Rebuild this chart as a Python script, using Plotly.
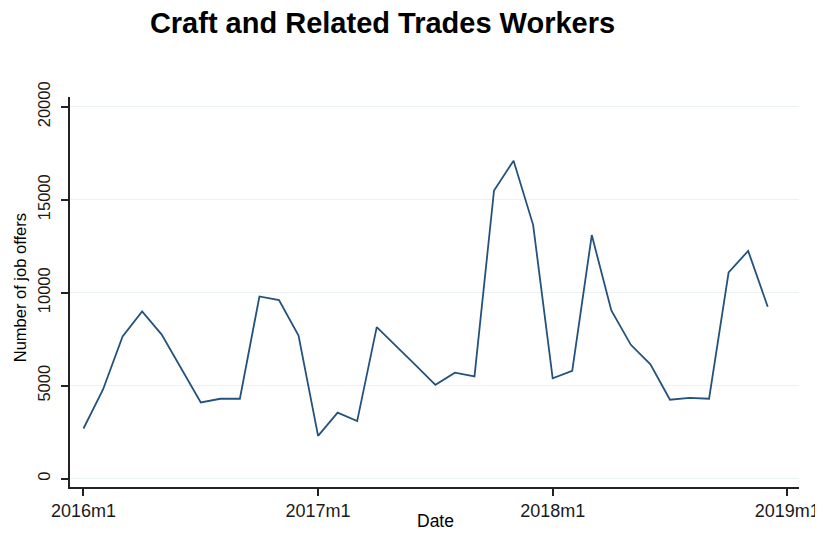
import plotly.graph_objects as go

# ---- data ----
months = [
    "2016m1", "2016m2", "2016m3", "2016m4", "2016m5", "2016m6",
    "2016m7", "2016m8", "2016m9", "2016m10", "2016m11", "2016m12",
    "2017m1", "2017m2", "2017m3", "2017m4", "2017m5", "2017m6",
    "2017m7", "2017m8", "2017m9", "2017m10", "2017m11", "2017m12",
    "2018m1", "2018m2", "2018m3", "2018m4", "2018m5", "2018m6",
    "2018m7", "2018m8", "2018m9", "2018m10", "2018m11", "2018m12",
]
job_offers = [
    2700, 4800, 7650, 9000, 7750, 5900, 4100, 4300, 4300, 9800, 9600, 7700,
    2300, 3550, 3100, 8150, 7150, 6100, 5050, 5700, 5500, 15500, 17100, 13650,
    5400, 5800, 13100, 9050, 7200, 6150, 4250, 4350, 4300, 11100, 12250, 9250,
]
x_tick_labels = ["2016m1", "2017m1", "2018m1", "2019m1"]
y_tick_values = [0, 5000, 10000, 15000, 20000]
y_tick_labels = ["0", "5000", "10000", "15000", "20000"]


def month_pos(label):
    y, m = label.split("m")
    return (int(y) - 2016) * 12 + (int(m) - 1)


x_pos = [month_pos(m) for m in months]
x_tick_pos = [month_pos(t) for t in x_tick_labels]

FONT = "Liberation Sans, Arial, Helvetica, sans-serif"
NAVY = "#24527d"
GRID = "#eaf2f3"

# page body has an 8px margin, so the figure is 8px smaller than the window
W, H = 815, 527
L, R, T, B = 62, 24, 89, 47.5
PW = W - L - R
PH = H - T - B

fig = go.Figure()
fig.add_trace(go.Scatter(
    x=x_pos, y=job_offers, mode="lines",
    line=dict(color=NAVY, width=1.8),
    customdata=months,
    hovertemplate="%{customdata}: %{y}<extra></extra>",
    showlegend=False,
))

fig.update_layout(
    width=W, height=H,
    margin=dict(l=L, r=R, t=T, b=B),
    paper_bgcolor="white", plot_bgcolor="white",
    font=dict(family=FONT, color="black"),
    title=dict(
        text="<b>Craft and Related Trades Workers</b>",
        font=dict(family=FONT, size=29, color="black"),
        x=374.5 / W, xref="container", xanchor="center",
        y=1 - 14.5 / H, yref="container", yanchor="middle",
    ),
    xaxis=dict(
        range=[-0.69, 36.6],
        tickmode="array", tickvals=x_tick_pos, ticktext=x_tick_labels,
        ticks="outside", ticklen=7, tickwidth=1.5, tickcolor="#222",
        showline=True, linecolor="#222", linewidth=1.5,
        showgrid=False, zeroline=False,
        tickfont=dict(family=FONT, size=18, color="#1a1a1a"),
        automargin=False,
    ),
    yaxis=dict(
        range=[-445, 20525],
        tickmode="array", tickvals=y_tick_values, ticktext=y_tick_labels,
        tickangle=-90,
        ticks="outside", ticklen=7, tickwidth=1.5, tickcolor="#222",
        ticklabelstandoff=5,
        showline=True, linecolor="#222", linewidth=1.5,
        showgrid=True, gridcolor=GRID, gridwidth=1,
        zeroline=False,
        tickfont=dict(family=FONT, size=16.5, color="#1a1a1a"),
        automargin=False,
    ),
    annotations=[
        dict(text="Date", xref="paper", yref="paper",
             x=(427 - L) / PW, y=-34.2 / PH, xanchor="center", yanchor="middle",
             showarrow=False, font=dict(family=FONT, size=17.5, color="black")),
        dict(text="Number of job offers", xref="paper", yref="paper",
             x=(12 - L) / PW, y=(280.5 - T) / PH * -1 + 1, xanchor="center", yanchor="middle",
             textangle=-90,
             showarrow=False, font=dict(family=FONT, size=16.5, color="black")),
    ],
)

fig.write_html("out.html")
